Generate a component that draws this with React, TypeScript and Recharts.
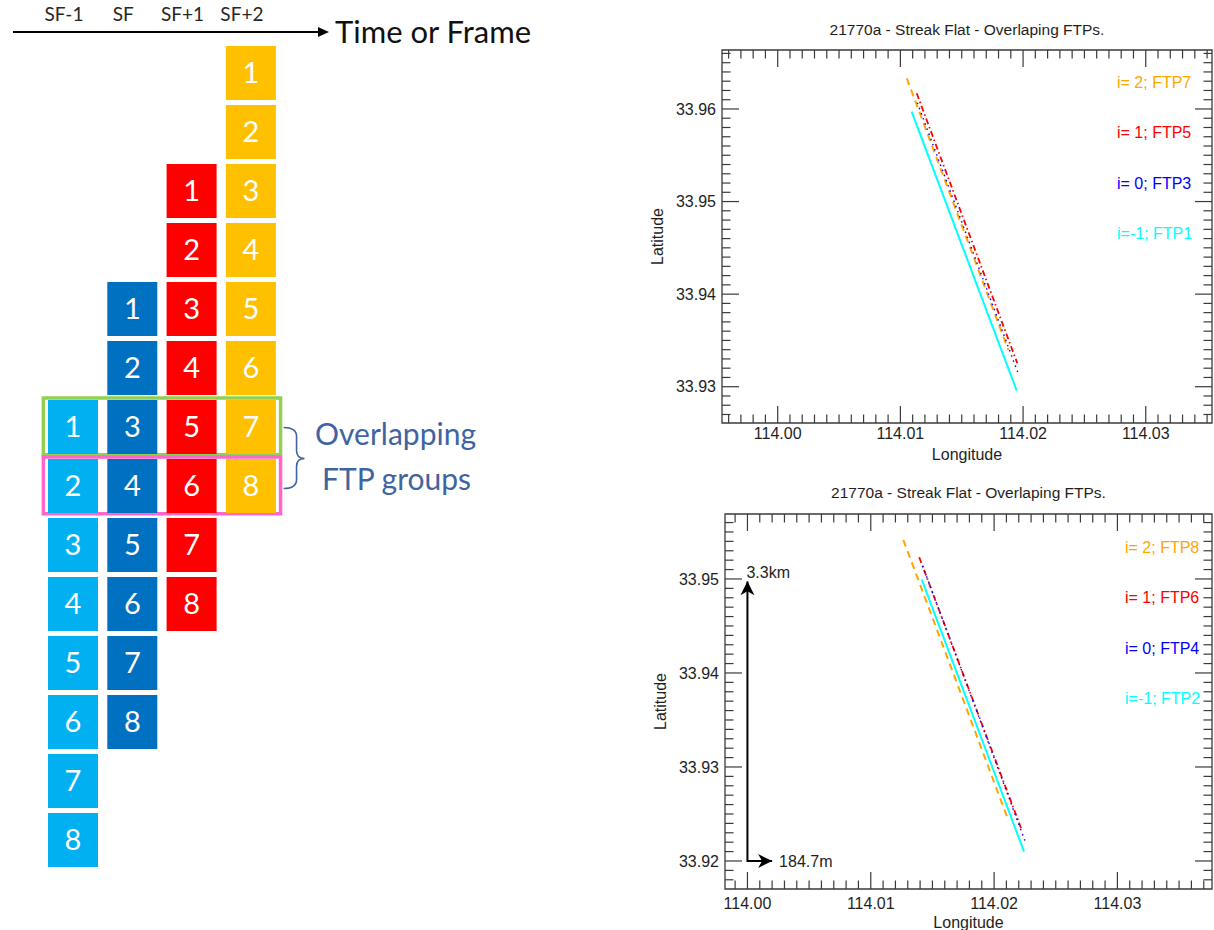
import React from 'react';
import {
  ComposedChart,
  ScatterChart,
  Scatter,
  Line,
  XAxis,
  YAxis,
  ReferenceArea,
  ReferenceDot,
  Legend,
} from 'recharts';

// ---------------- Frame / FTP layout diagram ----------------
const FRAME_LABELS = ['SF-1', 'SF', 'SF+1', 'SF+2'];
const FRAME_COLORS = ['#00B0F0', '#0070C0', '#FF0000', '#FFC000'];
// row (in time order) at which each frame's FTP 1 sits
const FRAME_FIRST_ROW = [6, 4, 2, 0];
const FTP_NUMBERS = [1, 2, 3, 4, 5, 6, 7, 8];
// rows grouped as overlapping FTP groups
const OVERLAP_ROWS = [6, 7];
const OVERLAP_COLORS = ['#92D050', '#FF66CC'];

// ---------------- Ground tracks (longitude / latitude) ----------------
type TrackPoint = { lon: number; lat: number };

const ftp7Track: TrackPoint[] = [
  { lon: 114.01052, lat: 33.96332 },
  { lon: 114.0188, lat: 33.93397 },
];
const ftp5Track: TrackPoint[] = [
  { lon: 114.01133, lat: 33.9617 },
  { lon: 114.01953, lat: 33.93253 },
];
const ftp3Track: TrackPoint[] = [
  { lon: 114.01138, lat: 33.96068 },
  { lon: 114.01962, lat: 33.93137 },
];
const ftp1Track: TrackPoint[] = [
  { lon: 114.01092, lat: 33.95971 },
  { lon: 114.01948, lat: 33.92957 },
];

const ftp8Track: TrackPoint[] = [
  { lon: 114.01264, lat: 33.95415 },
  { lon: 114.02115, lat: 33.92436 },
];
const ftp6Track: TrackPoint[] = [
  { lon: 114.01393, lat: 33.95231 },
  { lon: 114.02224, lat: 33.9233 },
];
const ftp4Track: TrackPoint[] = [
  { lon: 114.01421, lat: 33.95138 },
  { lon: 114.02253, lat: 33.92205 },
];
const ftp2Track: TrackPoint[] = [
  { lon: 114.01413, lat: 33.94996 },
  { lon: 114.02243, lat: 33.92099 },
];

const LON_MAJOR = [114.0, 114.01, 114.02, 114.03];
const LAT_MAJOR_UPPER = [33.93, 33.94, 33.95, 33.96];
const LAT_MAJOR_LOWER = [33.92, 33.93, 33.94, 33.95];
const MINOR_STEP = 0.001;

// distance scale bar on the lower panel
const SCALE_ORIGIN: TrackPoint = { lon: 114.0, lat: 33.92 };
const SCALE_NORTH_KM = 3.3;
const SCALE_EAST_M = 184.7;

const KM_PER_DEG_LAT = 110.95;
const kmPerDegLon = 111.32 * Math.cos((SCALE_ORIGIN.lat * Math.PI) / 180);
const northTip = {
  lon: SCALE_ORIGIN.lon,
  lat: SCALE_ORIGIN.lat + SCALE_NORTH_KM / KM_PER_DEG_LAT,
  note: `${SCALE_NORTH_KM}km`,
};
const eastTip = {
  lon: SCALE_ORIGIN.lon + SCALE_EAST_M / 1000 / kmPerDegLon,
  lat: SCALE_ORIGIN.lat,
  note: `${SCALE_EAST_M}m`,
};
const scaleBar = [eastTip, SCALE_ORIGIN, northTip];

// ---------------- styles ----------------
const IDL_FONT = '"Liberation Sans", Arial, Helvetica, sans-serif';
const DIAGRAM_FONT = 'Lato, "Open Sans", sans-serif';
const INK = '#1e1e1e';
const FRAME_INK = '#3a3a3a';
const MAJOR_LEN = 17;
const MINOR_LEN = 8.5;

const STYLE_I2 = { color: '#FFA500', dash: '7 5', width: 2 };
const STYLE_I1 = { color: '#FF0000', dash: '6 3 1.5 3', width: 1.8 };
const STYLE_I0 = { color: '#0000FF', dash: '1.5 4', width: 1.4 };
const STYLE_IM1 = { color: '#00FFFF', dash: undefined as string | undefined, width: 2 };

type Series = { label: string; data: TrackPoint[]; color: string; dash?: string; width: number };

type Panel = {
  title: string;
  lonDomain: [number, number];
  latDomain: [number, number];
  latMajor: number[];
  series: Series[];
};

const upperPanel: Panel = {
  title: '21770a - Streak Flat - Overlaping FTPs.',
  lonDomain: [113.99546, 114.0354],
  latDomain: [33.92608, 33.96637],
  latMajor: LAT_MAJOR_UPPER,
  series: [
    { label: 'i= 2; FTP7', data: ftp7Track, ...STYLE_I2 },
    { label: 'i= 1; FTP5', data: ftp5Track, ...STYLE_I1 },
    { label: 'i= 0; FTP3', data: ftp3Track, ...STYLE_I0 },
    { label: 'i=-1; FTP1', data: ftp1Track, ...STYLE_IM1 },
  ],
};

const lowerPanel: Panel = {
  title: '21770a - Streak Flat - Overlaping FTPs.',
  lonDomain: [113.99818, 114.03767],
  latDomain: [33.91702, 33.95691],
  latMajor: LAT_MAJOR_LOWER,
  series: [
    { label: 'i= 2; FTP8', data: ftp8Track, ...STYLE_I2 },
    { label: 'i= 1; FTP6', data: ftp6Track, ...STYLE_I1 },
    { label: 'i= 0; FTP4', data: ftp4Track, ...STYLE_I0 },
    { label: 'i=-1; FTP2', data: ftp2Track, ...STYLE_IM1 },
  ],
};

function ticksWithMinor(domain: [number, number], step: number): number[] {
  const out: number[] = [];
  const first = Math.ceil(domain[0] / step - 1e-9);
  const last = Math.floor(domain[1] / step + 1e-9);
  for (let k = first; k <= last; k++) out.push(Number((k * step).toFixed(4)));
  return out;
}

function isMajor(v: number, majors: number[]) {
  return majors.some((m) => Math.abs(m - v) < 1e-7);
}

// ---------------- panel (IDL-style boxed plot) ----------------
type PanelLayout = {
  width: number;
  height: number;
  margin: { top: number; right: number; bottom: number; left: number };
  xAxisHeight: number;
  yAxisWidth: number;
  titleGap: number;
  xLabelDy: number;
  legendLeft: number;
  legendTop: number;
};

function TrackKey({ series }: { series: Series[] }) {
  return (
    <div style={{ fontFamily: IDL_FONT, fontSize: 16 }}>
      {series.map((s) => (
        <div key={s.label} style={{ color: s.color, height: 50.3, lineHeight: '50.3px', whiteSpace: 'pre' }}>
          {s.label}
        </div>
      ))}
    </div>
  );
}

function FtpPanel({ panel, layout, children }: { panel: Panel; layout: PanelLayout; children?: React.ReactNode }) {
  const { width, height, margin } = layout;
  const plotTop = margin.top;
  const plotRight = width - margin.right;
  const lonTicks = ticksWithMinor(panel.lonDomain, MINOR_STEP);
  const latTicks = ticksWithMinor(panel.latDomain, MINOR_STEP);

  const LonTick = (p: any) => {
    const v = p.payload.value as number;
    const major = isMajor(v, LON_MAJOR);
    const len = major ? MAJOR_LEN : MINOR_LEN;
    return (
      <g>
        <line x1={p.x} y1={p.y} x2={p.x} y2={p.y - len} stroke={FRAME_INK} strokeWidth={1.2} />
        <line x1={p.x} y1={plotTop} x2={p.x} y2={plotTop + len} stroke={FRAME_INK} strokeWidth={1.2} />
        {major && (
          <text x={p.x} y={p.y + layout.xLabelDy} textAnchor="middle" fill={INK} fontSize={16} fontFamily={IDL_FONT}>
            {v.toFixed(2)}
          </text>
        )}
      </g>
    );
  };

  const LatTick = (p: any) => {
    const v = p.payload.value as number;
    const major = isMajor(v, panel.latMajor);
    const len = major ? MAJOR_LEN : MINOR_LEN;
    return (
      <g>
        <line x1={p.x} y1={p.y} x2={p.x + len} y2={p.y} stroke={FRAME_INK} strokeWidth={1.2} />
        <line x1={plotRight} y1={p.y} x2={plotRight - len} y2={p.y} stroke={FRAME_INK} strokeWidth={1.2} />
        {major && (
          <text x={p.x - 6} y={p.y} dy="0.36em" textAnchor="end" fill={INK} fontSize={16} fontFamily={IDL_FONT}>
            {v.toFixed(2)}
          </text>
        )}
      </g>
    );
  };

  return (
    <ComposedChart width={width} height={height} margin={margin}>
      <XAxis
        type="number"
        dataKey="lon"
        domain={panel.lonDomain}
        allowDataOverflow
        ticks={lonTicks}
        interval={0}
        tick={LonTick}
        tickLine={false}
        axisLine={false}
        tickSize={0}
        tickMargin={0}
        height={layout.xAxisHeight}
        label={{ value: 'Longitude', position: 'insideBottom', offset: 0, fill: INK, fontSize: 16, fontFamily: IDL_FONT }}
      />
      <YAxis
        type="number"
        domain={panel.latDomain}
        allowDataOverflow
        ticks={latTicks}
        interval={0}
        tick={LatTick}
        tickLine={false}
        axisLine={false}
        tickSize={0}
        tickMargin={0}
        width={layout.yAxisWidth}
        label={{ value: 'Latitude', angle: -90, position: 'center', fill: INK, fontSize: 16, fontFamily: IDL_FONT }}
      />
      <ReferenceArea
        x1={panel.lonDomain[0]}
        x2={panel.lonDomain[1]}
        y1={panel.latDomain[0]}
        y2={panel.latDomain[1]}
        fill="none"
        fillOpacity={0}
        stroke={FRAME_INK}
        strokeWidth={1.3}
        ifOverflow="visible"
        label={{ value: panel.title, position: 'top', offset: layout.titleGap, fill: INK, fontSize: 15.5, fontFamily: IDL_FONT }}
      />
      {panel.series.map((s) => (
        <Line
          key={s.label}
          name={s.label}
          data={s.data}
          dataKey="lat"
          type="linear"
          stroke={s.color}
          strokeDasharray={s.dash}
          strokeWidth={s.width}
          dot={false}
          activeDot={false}
          isAnimationActive={false}
        />
      ))}
      {children}
      <Legend
        layout="horizontal"
        verticalAlign="middle"
        align="center"
        wrapperStyle={{ left: layout.legendLeft, top: layout.legendTop, width: 110, height: 210 }}
        content={() => <TrackKey series={panel.series} />}
      />
    </ComposedChart>
  );
}

// arrowheads of the scale bar, with their distance text
const NorthHead = (p: any) => (
  <g>
    <path d={`M${p.cx},${p.cy} L${p.cx + 7},${p.cy + 14} L${p.cx},${p.cy + 10} L${p.cx - 7},${p.cy + 14} Z`} fill="#000" />
    <text x={p.cx - 1} y={p.cy - 3} fill={INK} fontSize={16} fontFamily={IDL_FONT}>
      {p.payload.note}
    </text>
  </g>
);

const EastHead = (p: any) => (
  <g>
    <path d={`M${p.cx},${p.cy} L${p.cx - 14},${p.cy - 7} L${p.cx - 10},${p.cy} L${p.cx - 14},${p.cy + 7} Z`} fill="#000" />
    <text x={p.cx + 7} y={p.cy + 6} fill={INK} fontSize={16} fontFamily={IDL_FONT}>
      {p.payload.note}
    </text>
  </g>
);

// ---------------- frame diagram ----------------
const frameCells = FRAME_LABELS.map((_, f) =>
  FTP_NUMBERS.map((n) => ({ frame: f, row: FRAME_FIRST_ROW[f] + n - 1, ftp: n }))
);

const FtpSquare = (p: any) => (
  <g>
    <rect x={p.cx - 25} y={p.cy - 27} width={50} height={54} fill={p.fill} />
    <text x={p.cx} y={p.cy + 10} textAnchor="middle" fill="#ffffff" fontSize={29} fontFamily={DIAGRAM_FONT}>
      {p.payload.ftp}
    </text>
  </g>
);

const FrameTick = (p: any) => (
  <text x={p.x - 9} y={p.y - 11} textAnchor="middle" fill="#262626" fontSize={19} fontFamily={DIAGRAM_FONT}>
    {FRAME_LABELS[p.payload.value]}
  </text>
);

const NOTE_COLOR = '#40649F';
const BraceNote = (p: any) => {
  const ox = p.cx;
  const oy = p.cy;
  const d = [
    `M${ox + 3},${oy - 29}`,
    `Q${ox + 16},${oy - 29} ${ox + 16},${oy - 20}`,
    `L${ox + 16},${oy - 6}`,
    `Q${ox + 16},${oy + 2} ${ox + 24},${oy + 2}`,
    `Q${ox + 16},${oy + 2} ${ox + 16},${oy + 10}`,
    `L${ox + 16},${oy + 23}`,
    `Q${ox + 16},${oy + 32} ${ox + 3},${oy + 32}`,
  ].join(' ');
  return (
    <g>
      <path d={d} fill="none" stroke={NOTE_COLOR} strokeWidth={1.6} />
      <text x={ox + 115} y={oy - 11} textAnchor="middle" fill={NOTE_COLOR} fontSize={30} fontFamily={DIAGRAM_FONT}>
        Overlapping
      </text>
      <text x={ox + 116} y={oy + 34} textAnchor="middle" fill={NOTE_COLOR} fontSize={30} fontFamily={DIAGRAM_FONT}>
        FTP groups
      </text>
    </g>
  );
};

function FrameDiagram() {
  const groupMid = OVERLAP_ROWS.reduce((a, b) => a + b, 0) / OVERLAP_ROWS.length;
  const lastCol = FRAME_LABELS.length - 0.5;
  return (
    <ScatterChart width={580} height={930} margin={{ top: 0, right: 262, bottom: 30, left: 13 }}>
      <defs>
        <marker id="frameArrow" markerWidth="12" markerHeight="10" refX="0" refY="5" orient="auto" markerUnits="userSpaceOnUse">
          <path d="M0,0 L11,5 L0,10 Z" fill="#000" />
        </marker>
      </defs>
      <XAxis
        type="number"
        dataKey="frame"
        orientation="top"
        domain={[-1.0118, 4.1315]}
        allowDataOverflow
        ticks={FRAME_LABELS.map((_, i) => i)}
        interval={0}
        height={32}
        tickSize={0}
        tickMargin={0}
        tickLine={false}
        axisLine={{ stroke: '#000', strokeWidth: 2, markerEnd: 'url(#frameArrow)' }}
        tick={FrameTick}
        label={{ value: 'Time or Frame', position: 'right', offset: 17, dy: 16, fill: '#111', fontSize: 31, fontFamily: DIAGRAM_FONT }}
      />
      <YAxis type="number" dataKey="row" reversed domain={[-0.6949, 14.017]} allowDataOverflow hide width={0} />
      {OVERLAP_ROWS.map((r, i) => (
        <ReferenceArea
          key={r}
          x1={-0.5}
          x2={lastCol}
          y1={r - 0.49}
          y2={r + 0.47}
          fill="none"
          fillOpacity={0}
          stroke={OVERLAP_COLORS[i]}
          strokeWidth={3.5}
          ifOverflow="visible"
        />
      ))}
      {frameCells.map((cells, f) => (
        <Scatter key={FRAME_LABELS[f]} name={FRAME_LABELS[f]} data={cells} fill={FRAME_COLORS[f]} shape={FtpSquare} isAnimationActive={false} />
      ))}
      <ReferenceDot x={lastCol} y={groupMid} r={0} shape={BraceNote} ifOverflow="visible" />
    </ScatterChart>
  );
}

export default function App() {
  return (
    <div style={{ position: 'absolute', left: 0, top: 0, width: 1214, height: 930, background: '#fff', overflow: 'hidden' }}>
      <div style={{ position: 'absolute', left: 0, top: 0 }}>
        <FrameDiagram />
      </div>
      <div style={{ position: 'absolute', left: 580, top: 0 }}>
        <FtpPanel
          panel={upperPanel}
          layout={{
            width: 634,
            height: 470,
            margin: { top: 50, right: 2, bottom: 10, left: 12 },
            xAxisHeight: 37,
            yAxisWidth: 130,
            titleGap: 15,
            xLabelDy: 16,
            legendLeft: 537,
            legendTop: 58,
          }}
        />
      </div>
      <div style={{ position: 'absolute', left: 580, top: 470 }}>
        <FtpPanel
          panel={lowerPanel}
          layout={{
            width: 634,
            height: 460,
            margin: { top: 44, right: 2, bottom: 2, left: 15 },
            xAxisHeight: 39,
            yAxisWidth: 130,
            titleGap: 16,
            xLabelDy: 20,
            legendLeft: 545,
            legendTop: 53,
          }}
        >
          <Line
            data={scaleBar}
            dataKey="lat"
            type="linear"
            stroke="#000"
            strokeWidth={2}
            dot={false}
            activeDot={false}
            isAnimationActive={false}
          />
          <Scatter data={[northTip]} dataKey="lat" shape={NorthHead} isAnimationActive={false} />
          <Scatter data={[eastTip]} dataKey="lat" shape={EastHead} isAnimationActive={false} />
        </FtpPanel>
      </div>
    </div>
  );
}
